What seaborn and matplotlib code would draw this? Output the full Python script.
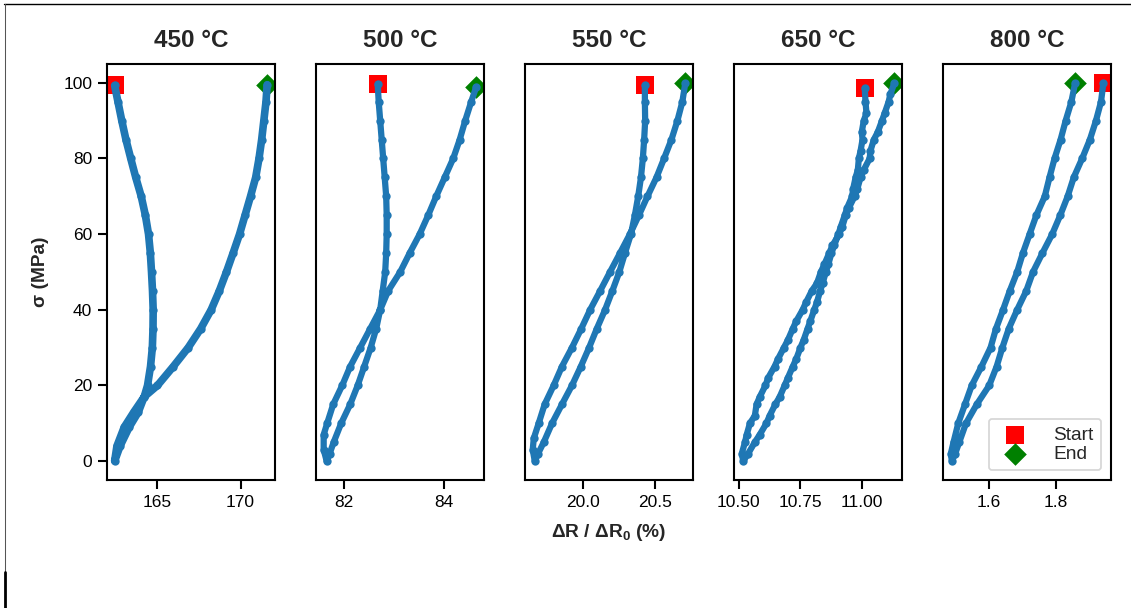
import numpy as np
import pandas as pd
import matplotlib
matplotlib.use("Agg")
import matplotlib.pyplot as plt
from matplotlib.lines import Line2D
import seaborn as sns

titles = ["450 °C", "500 °C", "550 °C", "650 °C", "800 °C"]

# 450 °C : start -> down to 0 -> back up to end
sigma_450 = [99.3, 95, 90, 85, 80, 75, 70, 65, 60, 55, 50, 45, 40, 35, 30, 25, 20, 17, 13, 9, 4, 0,
             4, 9, 13, 17, 20, 25, 30, 35, 40, 45, 50, 55, 60, 65, 70, 75, 80, 85, 90, 95, 99.5]
dr_450 = [162.42, 162.62, 162.85, 163.10, 163.39, 163.69, 164.02, 164.27, 164.46, 164.57, 164.64,
          164.70, 164.74, 164.73, 164.69, 164.58, 164.40, 164.20, 163.85, 163.30, 162.75, 162.42,
          162.56, 163.00, 163.58, 164.20, 165.00, 165.95, 166.85, 167.60, 168.23, 168.72, 169.15,
          169.55, 169.94, 170.27, 170.60, 170.91, 171.11, 171.27, 171.40, 171.53, 171.60]

# 500 °C
sigma_500 = [99.7, 95, 90, 85, 80, 75, 70, 65, 60, 55, 50, 45, 40, 35, 30, 25, 20, 15, 10, 5, 2, 0,
             3, 7, 10, 15, 20, 25, 30, 35, 40, 45, 50, 55, 60, 65, 70, 75, 80, 85, 90, 95, 98.9]
dr_500 = [82.68, 82.70, 82.73, 82.76, 82.79, 82.82, 82.85, 82.86, 82.86, 82.85, 82.83, 82.78, 82.73,
          82.65, 82.54, 82.41, 82.28, 82.13, 81.95, 81.80, 81.72, 81.66,
          81.60, 81.60, 81.67, 81.79, 81.97, 82.13, 82.33, 82.53, 82.73, 82.89, 83.13, 83.32, 83.52,
          83.69, 83.85, 84.02, 84.19, 84.32, 84.43, 84.55, 84.65]

# 550 °C
sigma_550 = [99.3, 95, 90, 85, 80, 75, 70, 65, 60, 55, 50, 45, 40, 35, 30, 25, 20, 15, 10, 5, 2, 0,
             3, 6, 10, 15, 20, 25, 30, 35, 40, 45, 50, 55, 60, 65, 70, 75, 80, 85, 90, 95, 99.9]
dr_550 = [20.427, 20.427, 20.429, 20.422, 20.413, 20.400, 20.381, 20.358, 20.331, 20.290, 20.251,
          20.203, 20.153, 20.096, 20.043, 19.986, 19.925, 19.856, 19.788, 19.731, 19.692, 19.669,
          19.655, 19.662, 19.696, 19.737, 19.799, 19.856, 19.925, 19.989, 20.050, 20.119, 20.187,
          20.256, 20.324, 20.386, 20.445, 20.507, 20.559, 20.610, 20.651, 20.685, 20.705]

# 650 °C
sigma_650 = [98.6, 95, 92, 90, 87, 85, 82, 80, 77, 75, 72, 70, 67, 65, 62, 60, 57, 55, 52, 50, 47, 45,
             42, 40, 37, 35, 32, 30, 27, 25, 22, 20, 17, 15, 12, 10, 7, 5, 2, 0,
             2, 5, 7, 10, 12, 15, 17, 20, 22, 25, 27, 30, 32, 35, 37, 40, 42, 45, 47, 50, 52, 55, 57,
             60, 62, 65, 67, 70, 72, 75, 77, 80, 82, 85, 87, 90, 92, 95, 97, 99.9]
dr_650 = [11.011, 11.014, 11.018, 11.007, 10.999, 11.002, 10.994, 10.987, 10.983, 10.974, 10.964,
          10.960, 10.940, 10.930, 10.914, 10.904, 10.887, 10.876, 10.863, 10.853, 10.840, 10.830,
          10.817, 10.806, 10.790, 10.779, 10.763, 10.750, 10.733, 10.719, 10.699, 10.686, 10.666,
          10.648, 10.625, 10.612, 10.585, 10.565, 10.538, 10.518,
          10.512, 10.525, 10.532, 10.545, 10.565, 10.572, 10.585, 10.608, 10.619, 10.645, 10.659,
          10.683, 10.699, 10.719, 10.733, 10.759, 10.773, 10.796, 10.817, 10.833, 10.847, 10.867,
          10.880, 10.907, 10.920, 10.934, 10.947, 10.970, 10.981, 10.994, 11.007, 11.031, 11.034,
          11.048, 11.064, 11.081, 11.092, 11.108, 11.115, 11.131]

# 800 °C
sigma_800 = [99.9, 95, 90, 85, 80, 75, 70, 65, 60, 55, 50, 45, 40, 35, 30, 25, 20, 15, 10, 5, 2, 0,
             2, 5, 10, 15, 20, 25, 30, 35, 40, 45, 50, 55, 60, 65, 70, 75, 80, 85, 90, 95, 99.9]
dr_800 = [1.940, 1.933, 1.918, 1.900, 1.877, 1.852, 1.834, 1.812, 1.788, 1.759, 1.731, 1.711, 1.684,
          1.659, 1.640, 1.623, 1.601, 1.564, 1.532, 1.512, 1.500, 1.490,
          1.487, 1.495, 1.509, 1.529, 1.549, 1.578, 1.605, 1.621, 1.642, 1.662, 1.684, 1.701, 1.721,
          1.741, 1.766, 1.780, 1.795, 1.813, 1.828, 1.845, 1.856]

xticks = [[165, 170], [82, 84], [20.0, 20.5], [10.50, 10.75, 11.00], [1.6, 1.8]]
xticklabels = [["165", "170"], ["82", "84"], ["20.0", "20.5"],
               ["10.50", "10.75", "11.00"], ["1.6", "1.8"]]
yticks = [0, 20, 40, 60, 80, 100]

sigmas = [sigma_450, sigma_500, sigma_550, sigma_650, sigma_800]
drs = [dr_450, dr_500, dr_550, dr_650, dr_800]

sns.set_style("ticks")
plt.rcParams["font.family"] = ["Liberation Sans", "DejaVu Sans"]
plt.rcParams["mathtext.fontset"] = "custom"
plt.rcParams["mathtext.rm"] = "Liberation Sans"
plt.rcParams["mathtext.bf"] = "Liberation Sans:bold"
plt.rcParams["axes.edgecolor"] = "black"
plt.rcParams["xtick.color"] = "black"
plt.rcParams["ytick.color"] = "black"

W, H, DPI = 1131, 608, 125
fig, axes = plt.subplots(1, 5, figsize=(W / DPI, H / DPI), dpi=DPI, sharey=True)
fig.subplots_adjust(left=107 / W, right=1111 / W, bottom=1 - 480 / H, top=1 - 64.3 / H, wspace=0.246)

blue = "#1f77b4"
for i, ax in enumerate(axes):
    x = drs[i]
    y = sigmas[i]
    lw = 4.4 if i == 0 else 3.6
    sns.scatterplot(x=[x[0]], y=[y[0]], marker="s", color="red", s=100, linewidth=0,
                    ax=ax, zorder=2, label="Start")
    sns.scatterplot(x=[x[-1]], y=[y[-1]], marker="D", color="green", s=85, linewidth=0,
                    ax=ax, zorder=2, label="End")
    sns.lineplot(x=x, y=y, sort=False, estimator=None, color=blue, marker="o",
                 markersize=4.8, markeredgewidth=0, linewidth=lw, ax=ax, zorder=3)
    if ax.get_legend() is not None:
        ax.get_legend().remove()
    ax.set_xticks(xticks[i], xticklabels[i])
    ax.set_title(titles[i], fontsize=14, fontweight="bold", pad=10)
    ax.set_xlabel("")
    ax.set_ylabel("")
    for sp in ax.spines.values():
        sp.set_visible(True)
        sp.set_linewidth(1.2)
        sp.set_color("black")
    ax.tick_params(axis="both", labelsize=10, length=5, width=1.2)
    if i > 0:
        ax.tick_params(axis="y", left=False, labelleft=False)

axes[0].set_yticks(yticks)
axes[0].set_ylabel("σ (MPa)", fontsize=11, fontweight="bold", labelpad=8)
axes[2].set_xlabel(r"ΔR / ΔR$_\mathbf{0}$ (%)", fontsize=11, fontweight="bold", labelpad=7)

handles, labels = axes[4].get_legend_handles_labels()
axes[4].legend(handles[:2], labels[:2], loc="lower right", fontsize=11,
               labelspacing=0.1, handletextpad=1.0, borderpad=0.4)

# thin frame remnants around the picture
fig.add_artist(Line2D([4 / W, 1], [1 - 4 / H, 1 - 4 / H], color="black", lw=0.8))
fig.add_artist(Line2D([4.5 / W, 4.5 / W], [1 - 4 / H, 1 - 572 / H], color="#555555", lw=0.6))
fig.add_artist(Line2D([5 / W, 5 / W], [1 - 572 / H, 0], color="black", lw=1.6))

fig.savefig("out.png", dpi=DPI)
